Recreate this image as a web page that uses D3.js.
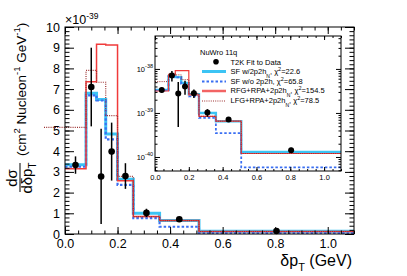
<!DOCTYPE html>
<html lang="en">
<head>
  <meta charset="UTF-8">
  <title>dpT cross section</title>
  <script src="https://d3js.org/d3.v7.min.js"></script>
  <style>
    body { margin: 0; background: #fff; }
    svg { display: block; font-family: "Liberation Sans", Arial, sans-serif; }
    .axis path { stroke: none; }
    .axis line { stroke: #000; stroke-width: 1; }
    .axis text { fill: #000; }
  </style>
</head>
<body>
  <script>
    // bins in dpT (GeV), values in units of 1e-39 cm^2/Nucleon/GeV
    const binEdges = [0, 0.08, 0.12, 0.155, 0.2, 0.26, 0.36, 0.51, 1.1];
    const dataCenters = [0.04, 0.1, 0.1375, 0.1775, 0.23, 0.31, 0.435, 0.805];
    const dataValues = [3.33, 7.1, 2.78, 3.98, 2.8, 1.02, 0.71, 0.143];
    const dataErrors = [0.42, 1.9, 2.3, 1.4, 0.62, 0.2, 0.06, 0.02];
    const sfWith = [3.35, 6.8, 6.5, 4.83, 2.65, 1.0, 0.65, 0.13];
    const sfWithout = [3.25, 6.7, 6.45, 4.57, 2.37, 0.77, 0.35, 0.058];
    const rfg = [3.15, 7.36, 9.17, 9.13, 2.57, 0.84, 0.65, 0.12];
    const lfg = [5.15, 7.9, 7.33, 5.72, 2.78, 0.84, 0.65, 0.12];
    const lfgLeftEdge = -0.08; // drawn line runs out past the frame

    const yTicks = [0, 1, 2, 3, 4, 5, 6, 7, 8, 9, 10];
    const xTicks = [0, 0.2, 0.4, 0.6, 0.8, 1.0];
    const logTicks = [0.1, 1, 10];
    const logLabels = ["-40", "-39", "-38"];

    const W = 407, H = 276;
    const svg = d3.select("body").append("svg").attr("width", W).attr("height", H);

    // main pad
    const x = d3.scaleLinear().domain([0, 1.1]).range([65, 354]);
    const y = d3.scaleLinear().domain([0, 10]).range([234, 27]);

    const models = [
      { vals: sfWith, color: "#3cc4f4", width: 3, dash: null },
      { vals: sfWithout, color: "#3a6ff2", width: 2.2, dash: "2.5,2" },
      { vals: rfg, color: "#f03a3a", width: 1.5, dash: null },
      { vals: lfg, color: "#9c3030", width: 1.2, dash: "1,1.2" }
    ];

    function stepPoints(vals, first) {
      const pts = vals.map((v, i) => [i === 0 && first != null ? first : binEdges[i], v]);
      pts.push([binEdges[binEdges.length - 1], vals[vals.length - 1]]);
      return pts;
    }

    function drawPad(g, xs, ys, isInset) {
      const line = d3.line().x(d => xs(d[0])).y(d => ys(d[1])).curve(d3.curveStepAfter);
      models.forEach(m => {
        const first = (!isInset && m.vals === lfg) ? lfgLeftEdge : null;
        g.append("path")
          .attr("d", line(stepPoints(m.vals, first)))
          .attr("fill", "none")
          .attr("stroke", m.color)
          .attr("stroke-width", isInset ? Math.max(m.width * 0.8, 1) : m.width)
          .attr("stroke-dasharray", m.dash);
      });
      // data with errors
      const pts = g.append("g");
      dataValues.forEach((v, i) => {
        const lo = Math.max(v - dataErrors[i], isInset ? 0.05 : 0);
        pts.append("line")
          .attr("x1", xs(dataCenters[i])).attr("x2", xs(dataCenters[i]))
          .attr("y1", ys(lo)).attr("y2", ys(v + dataErrors[i]))
          .attr("stroke", "#000").attr("stroke-width", 1.5);
        pts.append("circle")
          .attr("cx", xs(dataCenters[i])).attr("cy", ys(v))
          .attr("r", isInset ? 3 : 3.3).attr("fill", "#000");
      });
    }

    drawPad(svg.append("g"), x, y, false);

    // main axes
    const minorY = d3.range(0, 10.01, 0.2).map(d => +d.toFixed(2));
    const minorX = d3.range(0, 1.101, 0.05).map(d => +d.toFixed(2));

    svg.append("g").attr("class", "axis").attr("transform", "translate(65,0)")
      .call(d3.axisLeft(y).tickValues(yTicks).tickSize(-9).tickPadding(5).tickFormat(d3.format("d")))
      .call(g => g.selectAll("text").attr("font-size", 12.5));
    svg.append("g").attr("class", "axis").attr("transform", "translate(65,0)")
      .call(d3.axisLeft(y).tickValues(minorY).tickSize(-4.5).tickFormat(""));
    svg.append("g").attr("class", "axis").attr("transform", "translate(354,0)")
      .call(d3.axisRight(y).tickValues(yTicks).tickSize(-9).tickFormat(""));
    svg.append("g").attr("class", "axis").attr("transform", "translate(354,0)")
      .call(d3.axisRight(y).tickValues(minorY).tickSize(-4.5).tickFormat(""));

    svg.append("g").attr("class", "axis").attr("transform", "translate(0,234)")
      .call(d3.axisBottom(x).tickValues(xTicks).tickSize(-7).tickPadding(5).tickFormat(d3.format(".1f")))
      .call(g => g.selectAll("text").attr("font-size", 12.5));
    svg.append("g").attr("class", "axis").attr("transform", "translate(0,234)")
      .call(d3.axisBottom(x).tickValues(minorX).tickSize(-3.5).tickFormat(""));
    svg.append("g").attr("class", "axis").attr("transform", "translate(0,27)")
      .call(d3.axisTop(x).tickValues(xTicks).tickSize(-7).tickFormat(""));
    svg.append("g").attr("class", "axis").attr("transform", "translate(0,27)")
      .call(d3.axisTop(x).tickValues(minorX).tickSize(-3.5).tickFormat(""));

    svg.append("rect").attr("x", 65).attr("y", 27).attr("width", 289).attr("height", 207)
      .attr("fill", "none").attr("stroke", "#000").attr("stroke-width", 1);

    // exponent
    const ex = svg.append("text").attr("x", 65).attr("y", 24).attr("font-size", 12.5);
    ex.append("tspan").text("\u00d710");
    ex.append("tspan").attr("dy", -5).attr("font-size", 8.5).text("-39");

    // x title
    const xt = svg.append("text").attr("x", 352).attr("y", 266).attr("text-anchor", "end").attr("font-size", 16);
    xt.append("tspan").text("\u03b4p");
    xt.append("tspan").attr("dy", 5).attr("font-size", 11).text("T");
    xt.append("tspan").attr("dy", -5).text(" (GeV)");

    // y title (rotated)
    const yt = svg.append("g").attr("transform", "translate(20,200) rotate(-90)");
    yt.append("text").attr("x", 22).attr("y", -3).attr("text-anchor", "middle").attr("font-size", 15).text("d\u03c3");
    yt.append("line").attr("x1", 8).attr("x2", 37).attr("y1", 0).attr("y2", 0).attr("stroke", "#000").attr("stroke-width", 1);
    const den = yt.append("text").attr("x", 22).attr("y", 12).attr("text-anchor", "middle").attr("font-size", 15);
    den.append("tspan").text("d\u03b4p");
    den.append("tspan").attr("dy", 4).attr("font-size", 10).text("T");
    const unit = yt.append("text").attr("x", 44).attr("y", 5.5).attr("font-size", 13.5);
    unit.append("tspan").text("(cm");
    unit.append("tspan").attr("dy", -6).attr("font-size", 9.5).text("2");
    unit.append("tspan").attr("dy", 6).text(" Nucleon");
    unit.append("tspan").attr("dy", -6).attr("font-size", 9.5).text("-1");
    unit.append("tspan").attr("dy", 6).text(" GeV");
    unit.append("tspan").attr("dy", -6).attr("font-size", 9.5).text("-1");
    unit.append("tspan").attr("dy", 6).text(")");

    // inset pad
    const ix = d3.scaleLinear().domain([0, 1.1]).range([155, 341]);
    const iy = d3.scaleLog().domain([0.048, 56]).range([171, 36]);
    svg.append("rect").attr("x", 155).attr("y", 36).attr("width", 186).attr("height", 135)
      .attr("fill", "#fff");
    const inset = svg.append("g");
    drawPad(inset, ix, iy, true);

    const logMinor = [];
    [0.01, 0.1, 1, 10].forEach(d => { for (let k = 2; k <= 9; k++) { const v = d * k; if (v > 0.048 && v < 56) logMinor.push(v); } });
    const iMinorX = d3.range(0, 1.101, 0.05).map(d => +d.toFixed(2));

    const iyAxis = svg.append("g").attr("class", "axis").attr("transform", "translate(155,0)")
      .call(d3.axisLeft(iy).tickValues(logTicks).tickSize(-5).tickFormat(""));
    iyAxis.selectAll(".tick").each(function (d, i) {
      const t = d3.select(this).append("text").attr("x", -2).attr("dy", "0.32em")
        .attr("text-anchor", "end").attr("font-size", 7.5);
      t.append("tspan").text("10");
      t.append("tspan").attr("dy", -3.5).attr("font-size", 5.5).text(logLabels[i]);
    });
    svg.append("g").attr("class", "axis").attr("transform", "translate(155,0)")
      .call(d3.axisLeft(iy).tickValues(logMinor).tickSize(-2.5).tickFormat(""));
    svg.append("g").attr("class", "axis").attr("transform", "translate(341,0)")
      .call(d3.axisRight(iy).tickValues(logTicks).tickSize(-5).tickFormat(""));
    svg.append("g").attr("class", "axis").attr("transform", "translate(341,0)")
      .call(d3.axisRight(iy).tickValues(logMinor).tickSize(-2.5).tickFormat(""));

    svg.append("g").attr("class", "axis").attr("transform", "translate(0,171)")
      .call(d3.axisBottom(ix).tickValues(xTicks).tickSize(-4).tickPadding(4).tickFormat(d3.format(".1f")))
      .call(g => g.selectAll("text").attr("font-size", 7.5));
    svg.append("g").attr("class", "axis").attr("transform", "translate(0,171)")
      .call(d3.axisBottom(ix).tickValues(iMinorX).tickSize(-2).tickFormat(""));
    svg.append("g").attr("class", "axis").attr("transform", "translate(0,36)")
      .call(d3.axisTop(ix).tickValues(xTicks).tickSize(-4).tickFormat(""));
    svg.append("g").attr("class", "axis").attr("transform", "translate(0,36)")
      .call(d3.axisTop(ix).tickValues(iMinorX).tickSize(-2).tickFormat(""));

    svg.append("rect").attr("x", 155).attr("y", 36).attr("width", 186).attr("height", 135)
      .attr("fill", "none").attr("stroke", "#000").attr("stroke-width", 1);

    // legend
    const leg = svg.append("g").attr("font-size", 7.5);
    leg.append("text").attr("x", 200).attr("y", 55).text("NuWro 11q");
    leg.append("circle").attr("cx", 216).attr("cy", 61.7).attr("r", 2.8).attr("fill", "#000");
    leg.append("text").attr("x", 230.5).attr("y", 64.5).text("T2K Fit to Data");

    const legendRows = [
      { m: 0, y: 71.5, pre: "SF w/2p2h", sub: "N", chi: "22.6" },
      { m: 1, y: 81.5, pre: "SF w/o 2p2h", sub: null, chi: "65.8" },
      { m: 2, y: 91, pre: "RFG+RPA+2p2h", sub: "N", chi: "154.5" },
      { m: 3, y: 101, pre: "LFG+RPA+2p2h", sub: "N", chi: "78.5" }
    ];
    const legendColors = ["#3cc4f4", "#3a6ff2", "#f26464", "#9c3030"];
    const legendWidths = [3, 2, 2.5, 1];
    legendRows.forEach(r => {
      const m = models[r.m];
      leg.append("line").attr("x1", 202).attr("x2", 226).attr("y1", r.y).attr("y2", r.y)
        .attr("stroke", legendColors[r.m]).attr("stroke-width", legendWidths[r.m])
        .attr("stroke-dasharray", m.dash);
      const t = leg.append("text").attr("x", 230.5).attr("y", r.y + 2);
      t.append("tspan").text(r.pre);
      if (r.sub) {
        t.append("tspan").attr("dy", 4).attr("font-size", 5).text(r.sub);
        t.append("tspan").attr("dy", -4).text(", \u03c7");
      } else {
        t.append("tspan").text(", \u03c7");
      }
      t.append("tspan").attr("dy", -3).attr("font-size", 5.5).text("2");
      t.append("tspan").attr("dy", 3).text("=" + r.chi);
    });
  </script>
</body>
</html>
